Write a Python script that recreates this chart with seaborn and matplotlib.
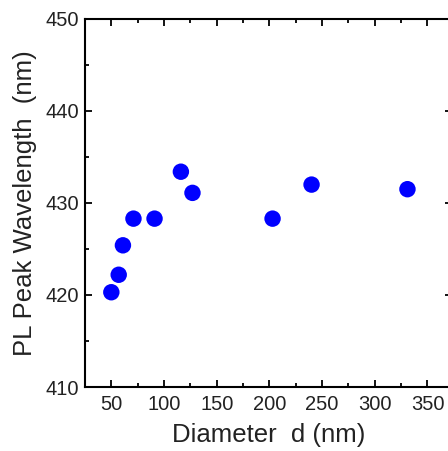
import matplotlib
matplotlib.use("Agg")
import matplotlib.pyplot as plt
import seaborn as sns
import pandas as pd
from matplotlib.ticker import MultipleLocator

# data
diameter = [50, 57, 61, 71, 91, 116, 127, 203, 240, 331]
pl_peak = [420.3, 422.2, 425.4, 428.3, 428.3, 433.4, 431.1, 428.3, 432.0, 431.5]

df = pd.DataFrame({"d": diameter, "wl": pl_peak})

sns.set_style("ticks")
plt.rcParams["font.family"] = ["Liberation Sans", "DejaVu Sans"]

fig = plt.figure(figsize=(4.48, 4.51), dpi=100)
# right spine sits just past the figure edge, as in the reference
ax = fig.add_axes([0.1897, 0.1419, 0.82, 0.816])

sns.scatterplot(data=df, x="d", y="wl", ax=ax, color="#0000ff",
                s=140, edgecolor="none", linewidth=0)

ax.set_xlim(25, 373.6)
ax.set_ylim(410, 450)
ax.xaxis.set_major_locator(MultipleLocator(50))
ax.xaxis.set_minor_locator(MultipleLocator(25))
ax.yaxis.set_major_locator(MultipleLocator(10))
ax.yaxis.set_minor_locator(MultipleLocator(5))

ax.tick_params(which="both", direction="in", top=True, right=True,
               width=1.3, color="black", labelsize=14.5, labelcolor="#222222")
ax.tick_params(which="major", length=5)
ax.tick_params(which="minor", length=3)
ax.tick_params(axis="x", pad=6)
ax.tick_params(axis="y", pad=4)
for sp in ax.spines.values():
    sp.set_linewidth(1.5)
    sp.set_color("black")

ax.set_xlabel("Diameter  d (nm)", fontsize=18.5, color="#222222", labelpad=6)
ax.set_ylabel("PL Peak Wavelength  (nm)", fontsize=18.5, color="#222222", labelpad=6)

fig.savefig("out.png", dpi=100)
